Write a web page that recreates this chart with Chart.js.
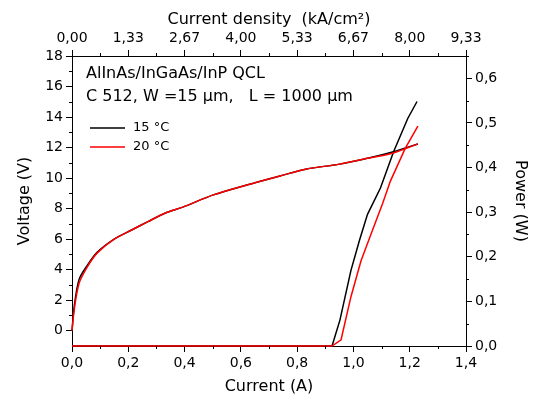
<!DOCTYPE html>
<html>
<head>
<meta charset="utf-8">
<script src="https://cdn.jsdelivr.net/npm/chart.js@4"></script>
<style>body{margin:0;background:#fff}</style>
</head>
<body>
<canvas id="chart" width="533" height="396"></canvas>
<script>
const black = "#000000";
const red = "#ff0000";
const family = "'DejaVu Sans', sans-serif";

// voltage vs current (A)
const vCurrent = [0, 0.008, 0.025, 0.055, 0.09, 0.15, 0.212, 0.27, 0.33, 0.394, 0.502, 0.621, 0.739, 0.834, 0.946, 1.05, 1.142, 1.229];
const voltage15 = [0, 1.6, 3.35, 4.3, 5.15, 6.0, 6.6, 7.15, 7.7, 8.1, 8.9, 9.55, 10.14, 10.6, 10.9, 11.3, 11.73, 12.24];
const voltage20 = [0, 1.4, 3.1, 4.2, 5.1, 6.0, 6.6, 7.15, 7.7, 8.1, 8.9, 9.55, 10.14, 10.6, 10.9, 11.3, 11.65, 12.24];

// optical power vs current
const pCurrent15 = [0, 0.924, 0.952, 0.991, 1.021, 1.05, 1.096, 1.143, 1.193, 1.226];
const power15 = [0, 0, 0.058, 0.169, 0.236, 0.295, 0.354, 0.436, 0.51, 0.548];
const pCurrent20 = [0, 0.924, 0.956, 0.991, 1.027, 1.062, 1.104, 1.131, 1.184, 1.229];
const power20 = [0, 0, 0.014, 0.11, 0.191, 0.25, 0.32, 0.369, 0.443, 0.493];

const voltageTicks = [0, 2, 4, 6, 8, 10, 12, 14, 16, 18];
const powerTicks = [0, 0.1, 0.2, 0.3, 0.4, 0.5, 0.6];
const legendLabels = ["15 °C", "20 °C"];
const infoLines = ["AlInAs/InGaAs/InP QCL", "C 512, W =15 μm,   L = 1000 μm"];

function toPoints(xs, ys) {
    return xs.map((x, i) => ({ x: x, y: ys[i] }));
}

function comma(v, d) {
    return v.toFixed(d).replace(".", ",");
}

// small ticks between the labelled ones
const minorTicks = {
    id: "minorTicks",
    afterDraw(chart) {
        const ctx = chart.ctx;
        const a = chart.chartArea;
        const s = chart.scales;
        ctx.save();
        ctx.strokeStyle = black;
        ctx.lineWidth = 1;
        ctx.beginPath();
        for (let v = 0.1; v < 1.4; v += 0.2) {
            const px = Math.round(s.x.getPixelForValue(v)) + 0.5;
            ctx.moveTo(px, a.bottom); ctx.lineTo(px, a.bottom + 3);
            ctx.moveTo(px, a.top); ctx.lineTo(px, a.top - 3);
        }
        for (let v = 1; v < 18; v += 2) {
            const py = Math.round(s.y.getPixelForValue(v)) + 0.5;
            ctx.moveTo(a.left, py); ctx.lineTo(a.left - 3, py);
        }
        for (let v = 0.05; v < 0.65; v += 0.1) {
            const py = Math.round(s.y2.getPixelForValue(v)) + 0.5;
            ctx.moveTo(a.right, py); ctx.lineTo(a.right + 3, py);
        }
        ctx.stroke();
        ctx.restore();
    }
};

// sample text and legend inside the plot
const notes = {
    id: "notes",
    afterDraw(chart) {
        const ctx = chart.ctx;
        const a = chart.chartArea;
        ctx.save();
        ctx.fillStyle = black;
        ctx.textBaseline = "alphabetic";
        ctx.font = "16px " + family;
        ctx.fillText(infoLines[0], a.left + 14, 78);
        ctx.fillText(infoLines[1], a.left + 14, 101);

        const colors = [black, red];
        ctx.font = "13px " + family;
        ctx.textBaseline = "middle";
        for (let i = 0; i < legendLabels.length; i++) {
            const y = 128 + i * 19;
            ctx.strokeStyle = colors[i];
            ctx.lineWidth = 1.5;
            ctx.beginPath();
            ctx.moveTo(a.left + 18, y);
            ctx.lineTo(a.left + 53, y);
            ctx.stroke();
            ctx.fillText(legendLabels[i], a.left + 61, y);
        }
        ctx.restore();
    }
};

const tickFont = { family: family, size: 14 };
const titleFont = { family: family, size: 16 };
const grid = { drawOnChartArea: false, tickLength: 6, color: black };

new Chart(document.getElementById("chart"), {
    type: "scatter",
    data: {
        datasets: [{
            label: legendLabels[0],
            data: toPoints(vCurrent, voltage15),
            borderColor: black,
            yAxisID: "y",
            order: 2,
            tension: 0.3,
        }, {
            label: legendLabels[1],
            data: toPoints(vCurrent, voltage20),
            borderColor: red,
            yAxisID: "y",
            order: 1,
            tension: 0.3,
        }, {
            label: legendLabels[0],
            data: toPoints(pCurrent15, power15),
            borderColor: black,
            yAxisID: "y2",
            order: 2,
        }, {
            label: legendLabels[1],
            data: toPoints(pCurrent20, power20),
            borderColor: red,
            yAxisID: "y2",
            order: 1,
        }],
    },
    options: {
        responsive: false,
        animation: false,
        devicePixelRatio: 1,
        layout: { padding: 0 },
        datasets: {
            scatter: { showLine: true, pointRadius: 0, borderWidth: 1.5, clip: 4 },
        },
        plugins: { legend: { display: false }, tooltip: { enabled: false } },
        scales: {
            x: {
                type: "linear", position: "bottom", min: 0, max: 1.4,
                ticks: { stepSize: 0.2, callback: v => comma(v, 1), font: tickFont, color: black, padding: 3, maxRotation: 0 },
                grid: grid,
                border: { color: black },
                title: { display: true, text: "Current (A)", font: titleFont, color: black, padding: 0 },
                afterFit: s => { s.height = 50; },
            },
            x2: {
                type: "linear", position: "top", min: 0, max: 1.4,
                ticks: { stepSize: 0.2, callback: v => comma(v * 20 / 3, 2), font: tickFont, color: black, padding: 3, maxRotation: 0 },
                grid: grid,
                border: { color: black },
                title: { display: true, text: "Current density  (kA/cm²)", font: titleFont, color: black, padding: { top: 10, bottom: 0 } },
                afterFit: s => { s.height = 56; },
            },
            y: {
                type: "linear", position: "left", min: -1, max: 18,
                ticks: { font: tickFont, color: black, padding: 3 },
                afterBuildTicks: s => { s.ticks = voltageTicks.map(v => ({ value: v })); },
                grid: grid,
                border: { color: black },
                title: { display: true, text: "Voltage (V)", font: titleFont, color: black, padding: { top: 15, bottom: 0 } },
                afterFit: s => { s.width = 72; },
            },
            y2: {
                type: "linear", position: "right", min: 0, max: 0.65,
                ticks: { callback: v => comma(v, 1), font: tickFont, color: black, padding: 3 },
                afterBuildTicks: s => { s.ticks = powerTicks.map(v => ({ value: v })); },
                grid: grid,
                border: { color: black },
                title: { display: true, text: "Power (W)", font: titleFont, color: black, padding: { top: 3, bottom: 0 } },
                afterFit: s => { s.width = 67; },
            },
        },
    },
    plugins: [minorTicks, notes],
});
</script>
</body>
</html>
